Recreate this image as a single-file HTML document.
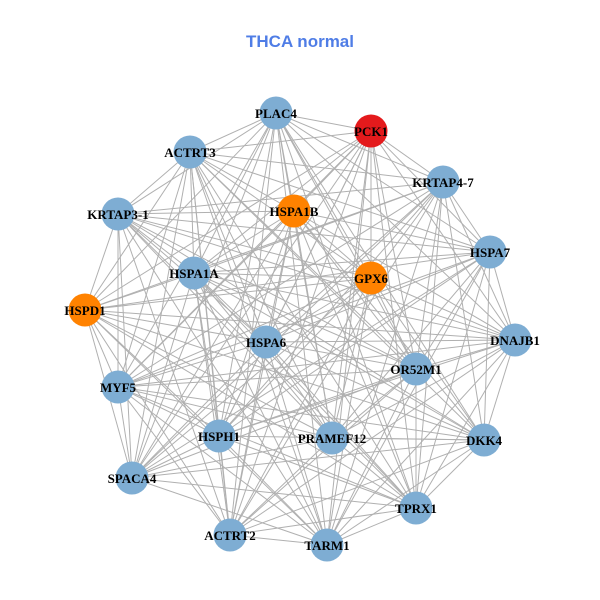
<!DOCTYPE html>
<html><head><meta charset="utf-8"><style>
html,body{margin:0;padding:0;background:#fff;}
svg{display:block;}
</style></head><body>
<svg id="g" width="600" height="600" xmlns="http://www.w3.org/2000/svg">
<rect width="600" height="600" fill="#fff"/>
<text x="300" y="47" text-anchor="middle" font-family="Liberation Sans, sans-serif" font-weight="bold" font-size="17" fill="#4f7de6">THCA normal</text>
<g id="edges" stroke="#b0b0b0" stroke-width="1"></g>
<g id="nodes"></g>
</svg>
<script>
var N=[
["PLAC4",276,113,"#7eadd3"],["PCK1",371,131,"#e41a1c"],["ACTRT3",190,152,"#7eadd3"],
["KRTAP4-7",443,182,"#7eadd3"],["HSPA1B",294,211,"#ff8200"],["KRTAP3-1",118,214,"#7eadd3"],
["HSPA7",490,252,"#7eadd3"],["HSPA1A",194,273,"#7eadd3"],["GPX6",371,278,"#ff8200"],
["HSPD1",85,310,"#ff8200"],["DNAJB1",515,340,"#7eadd3"],["HSPA6",266,342,"#7eadd3"],
["OR52M1",416,369,"#7eadd3"],["MYF5",118,387,"#7eadd3"],["HSPH1",219,436,"#7eadd3"],
["PRAMEF12",332,438,"#7eadd3"],["DKK4",484,440,"#7eadd3"],["SPACA4",132,478,"#7eadd3"],
["TPRX1",416,508,"#7eadd3"],["ACTRT2",230,535,"#7eadd3"],["TARM1",327,545,"#7eadd3"]];
var ns="http://www.w3.org/2000/svg",E=document.getElementById("edges"),G=document.getElementById("nodes");
for(var i=0;i<N.length;i++)for(var j=i+1;j<N.length;j++){
 if((i*7+j*3)%11==0)continue;
 var l=document.createElementNS(ns,"line");
 l.setAttribute("x1",N[i][1]);l.setAttribute("y1",N[i][2]);l.setAttribute("x2",N[j][1]);l.setAttribute("y2",N[j][2]);E.appendChild(l);}
N.forEach(function(n){
 var c=document.createElementNS(ns,"circle");c.setAttribute("cx",n[1]);c.setAttribute("cy",n[2]);c.setAttribute("r",16.5);c.setAttribute("fill",n[3]);G.appendChild(c);
});
N.forEach(function(n){
 var t=document.createElementNS(ns,"text");t.setAttribute("x",n[1]);t.setAttribute("y",n[2]+5);t.setAttribute("text-anchor","middle");
 t.setAttribute("font-family","Liberation Serif, serif");t.setAttribute("font-weight","bold");t.setAttribute("font-size","13");t.textContent=n[0];G.appendChild(t);
});
</script>
</body></html>
